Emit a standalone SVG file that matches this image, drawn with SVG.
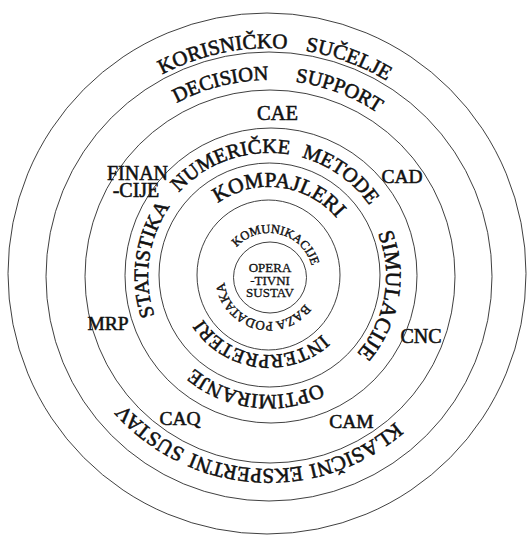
<svg xmlns="http://www.w3.org/2000/svg" xmlns:xlink="http://www.w3.org/1999/xlink" width="527" height="535" viewBox="0 0 527 535">
<style>
.ring{fill:none;stroke:#2a2a2a;stroke-width:0.9}
.t{font-family:"Liberation Serif","Times New Roman",serif;fill:#111;stroke:#111;stroke-width:0.55}
.m{text-anchor:middle}
</style>
<defs>
<path id="b228" d="M269,504 A228,228 0 0 1 269,48 A228,228 0 0 1 269,504"/>
<path id="b196" d="M269,472 A196,196 0 0 1 269,80 A196,196 0 0 1 269,472"/>
<path id="t193" d="M269,83 A193,193 0 0 1 269,469 A193,193 0 0 1 269,83"/>
<path id="b123" d="M269,399 A123,123 0 0 1 269,153 A123,123 0 0 1 269,399"/>
<path id="b121" d="M269,397 A121,121 0 0 1 269,155 A121,121 0 0 1 269,397"/>
<path id="t117" d="M269,159 A117,117 0 0 1 269,393 A117,117 0 0 1 269,159"/>
<path id="t119" d="M269,157 A119,119 0 0 1 269,395 A119,119 0 0 1 269,157"/>
<path id="b89" d="M269,365 A89,89 0 0 1 269,187 A89,89 0 0 1 269,365"/>
<path id="t79" d="M269,197 A79,79 0 0 1 269,355 A79,79 0 0 1 269,197"/>
<path id="b44" d="M269,321 A44,44 0 0 1 269,233 A44,44 0 0 1 269,321"/>
<path id="t45" d="M269,232 A45,45 0 0 1 269,322 A45,45 0 0 1 269,232"/>
</defs>
<g id="ring1">
<ellipse class="ring" cx="267" cy="273.5" rx="259" ry="260.5"/>
<text class="t m" font-size="21"><textPath xlink:href="#b228" startOffset="46.75%">KORISNIČKO</textPath></text>
<text class="t m" font-size="21"><textPath xlink:href="#b228" startOffset="55.6%">SUČELJE</textPath></text>
</g>
<g id="ring2">
<ellipse class="ring" cx="269" cy="276.5" rx="223" ry="224.5"/>
<text class="t m" font-size="20.5"><textPath xlink:href="#b196" startOffset="46.07%">DECISION</textPath></text>
<text class="t m" font-size="20.5"><textPath xlink:href="#b196" startOffset="55.74%">SUPPORT</textPath></text>
<text class="t m" font-size="21"><textPath xlink:href="#t193" startOffset="42.67%">KLASIČNI</textPath></text>
<text class="t m" font-size="21"><textPath xlink:href="#t193" startOffset="51.89%">EKSPERTNI</textPath></text>
<text class="t m" font-size="21"><textPath xlink:href="#t193" startOffset="60.31%">SUSTAV</textPath></text>
</g>
<g id="ring3">
<ellipse class="ring" cx="270" cy="276.5" rx="185" ry="186.5"/>
<text class="t m" font-size="20.5" x="277.5" y="120">CAE</text>
<text class="t m" font-size="20" x="137.5" y="180">FINAN</text>
<text class="t m" font-size="20" x="136" y="197">-CIJE</text>
<text class="t m" font-size="19.5" x="402" y="183">CAD</text>
<text class="t m" font-size="19.5" x="108" y="330">MRP</text>
<text class="t m" font-size="20" x="421" y="343">CNC</text>
<text class="t m" font-size="19.5" x="180" y="425">CAQ</text>
<text class="t m" font-size="19.5" x="351.5" y="428">CAM</text>
</g>
<g id="ring4">
<ellipse class="ring" cx="271" cy="275.5" rx="146" ry="147.5"/>
<text class="t m" font-size="20.5"><textPath xlink:href="#b123" startOffset="44.76%">NUMERIČKE</textPath></text>
<text class="t m" font-size="20.5"><textPath xlink:href="#b123" startOffset="59.76%">METODE</textPath></text>
<text class="t m" font-size="20.5"><textPath xlink:href="#b121" startOffset="27.22%">STATISTIKA</textPath></text>
<text class="t m" font-size="22"><textPath xlink:href="#t117" startOffset="27.78%">SIMULACIJE</textPath></text>
<text class="t m" font-size="20.5"><textPath xlink:href="#t119" startOffset="51.875%">OPTIMIRANJE</textPath></text>
</g>
<g id="ring5">
<ellipse class="ring" cx="269.5" cy="275" rx="110.5" ry="112"/>
<text class="t m" font-size="21.5"><textPath xlink:href="#b89" startOffset="52%">KOMPAJLERI</textPath></text>
<text class="t m" font-size="19.5"><textPath xlink:href="#t79" startOffset="52.04%">INTERPRETERI</textPath></text>
</g>
<g id="ring6">
<ellipse class="ring" cx="268.5" cy="275" rx="71.5" ry="75"/>
<text class="t m" font-size="12.5" style="stroke-width:0.4"><textPath xlink:href="#b44" startOffset="53.8%">KOMUNIKACIJE</textPath></text>
<text class="t m" font-size="13" style="stroke-width:0.4"><textPath xlink:href="#t45" startOffset="54.17%">BAZA PODATAKA</textPath></text>
</g>
<g id="core">
<ellipse class="ring" cx="270" cy="277.5" rx="36.5" ry="35.5"/>
<text class="t m" font-size="13" style="stroke-width:0.3" x="270" y="272">OPERA</text>
<text class="t m" font-size="13" style="stroke-width:0.3" x="270" y="284.5">-TIVNI</text>
<text class="t m" font-size="13" style="stroke-width:0.3" x="270" y="297">SUSTAV</text>
</g>
</svg>
